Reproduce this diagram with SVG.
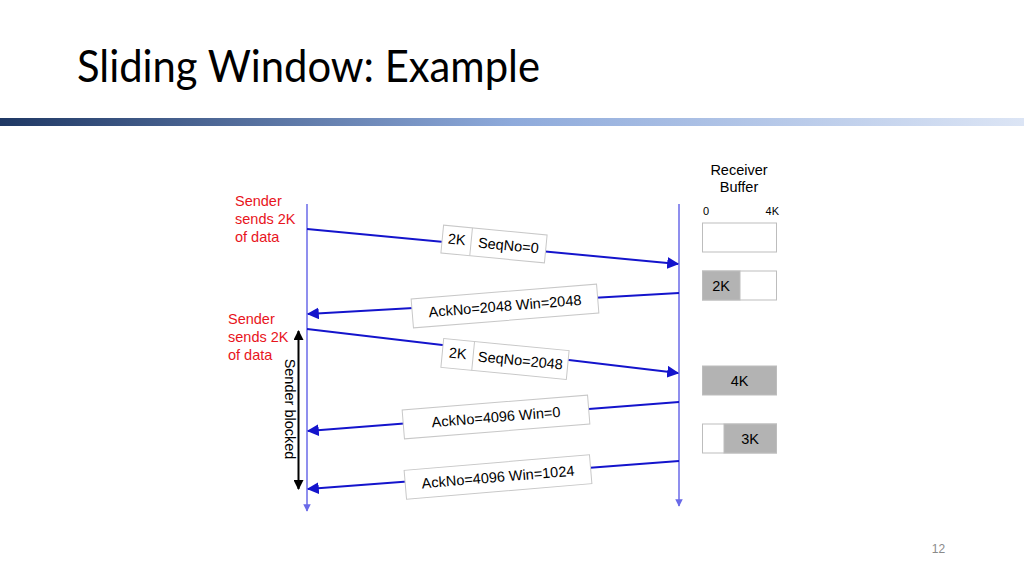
<svg xmlns="http://www.w3.org/2000/svg" width="1024" height="576" viewBox="0 0 1024 576">
<style>
text{font-family:"Liberation Sans",Arial,sans-serif}
.title{font-family:Lato,"Open Sans",sans-serif;font-size:44px;fill:#000}
.red{fill:#e8141c;font-size:14.5px}
.lbl{font-size:14.5px;fill:#000}
.box{fill:#fff;stroke:#c8c8c8;stroke-width:1}
.life{stroke:#6a6ae8;stroke-width:1.5;fill:none}
.msg{stroke:#1414cc;stroke-width:2;fill:none;marker-end:url(#ah)}
.buf{fill:#fff;stroke:#bdbdbd;stroke-width:1}
.full{fill:#b3b3b3;stroke:#bdbdbd;stroke-width:1}
.small{font-size:11px;fill:#000}
</style>
<defs>
<linearGradient id="bar" x1="0" y1="0" x2="1" y2="0">
<stop offset="0" stop-color="#1f3864"/>
<stop offset="0.5" stop-color="#8eaadb"/>
<stop offset="1" stop-color="#dce5f5"/>
</linearGradient>
<marker id="ah" viewBox="0 0 10 10" refX="9" refY="5" markerWidth="6" markerHeight="6" markerUnits="strokeWidth" orient="auto">
<path d="M0,0 L10,5 L0,10 z" fill="#1414cc"/>
</marker>
<marker id="lah" viewBox="0 0 10 10" refX="9" refY="5" markerWidth="5" markerHeight="5" markerUnits="strokeWidth" orient="auto">
<path d="M0,0 L10,5 L0,10 z" fill="#6a6ae8"/>
</marker>
<marker id="bk" viewBox="0 0 10 10" refX="9" refY="5" markerWidth="5" markerHeight="5" markerUnits="strokeWidth" orient="auto-start-reverse">
<path d="M0,0 L10,5 L0,10 z" fill="#000"/>
</marker>
</defs>
<rect width="1024" height="576" fill="#fff"/>
<text class="title" x="77" y="82" textLength="463" lengthAdjust="spacingAndGlyphs">Sliding Window: Example</text>
<rect x="0" y="118" width="1024" height="8" fill="url(#bar)"/>

<g id="sender-note-1">
<text class="red" x="235" y="206">Sender</text>
<text class="red" x="235" y="224">sends 2K</text>
<text class="red" x="235" y="242">of data</text>
</g>
<g id="sender-note-2">
<text class="red" x="228" y="324">Sender</text>
<text class="red" x="228" y="342">sends 2K</text>
<text class="red" x="228" y="360">of data</text>
</g>

<g id="lifelines">
<line class="life" x1="307" y1="204" x2="307" y2="511" marker-end="url(#lah)"/>
<line class="life" x1="679" y1="204" x2="679" y2="506" marker-end="url(#lah)"/>
</g>

<g id="connectors">
<line class="msg" x1="307" y1="229" x2="678" y2="264"/>
<line class="msg" x1="679" y1="293" x2="308" y2="314"/>
<line class="msg" x1="307" y1="329" x2="678" y2="373"/>
<line class="msg" x1="679" y1="402" x2="308" y2="431"/>
<line class="msg" x1="679" y1="461" x2="308" y2="489"/>
<line x1="298.5" y1="331" x2="298.5" y2="489" stroke="#000" stroke-width="2" marker-start="url(#bk)" marker-end="url(#bk)"/>
</g>

<g id="sender-blocked">
<text class="lbl" transform="translate(285,409) rotate(90)" text-anchor="middle" font-size="15">Sender blocked</text>
</g>

<g id="label-seq0" transform="translate(494,244) rotate(5.5)">
<rect class="box" x="-52" y="-14" width="104" height="28"/>
<line x1="-23" y1="-14" x2="-23" y2="14" stroke="#c8c8c8"/>
<text class="lbl" x="-37.5" y="4" text-anchor="middle">2K</text>
<text class="lbl" x="14.5" y="5" text-anchor="middle">SeqNo=0</text>
</g>

<g id="label-ack2048" transform="translate(505,306) rotate(-4.6)">
<rect class="box" x="-93" y="-14.5" width="186" height="29"/>
<text class="lbl" x="0" y="5" text-anchor="middle">AckNo=2048 Win=2048</text>
</g>

<g id="label-seq2048" transform="translate(505,359) rotate(5.5)">
<rect class="box" x="-63" y="-14.5" width="126" height="29"/>
<line x1="-32" y1="-14.5" x2="-32" y2="14.5" stroke="#c8c8c8"/>
<text class="lbl" x="-47.5" y="4" text-anchor="middle">2K</text>
<text class="lbl" x="15.5" y="5" text-anchor="middle">SeqNo=2048</text>
</g>

<g id="label-ack4096-0" transform="translate(496,417) rotate(-4.6)">
<rect class="box" x="-93" y="-14.5" width="186" height="29"/>
<text class="lbl" x="0" y="5" text-anchor="middle">AckNo=4096 Win=0</text>
</g>

<g id="label-ack4096-1024" transform="translate(498,477) rotate(-4.8)">
<rect class="box" x="-93" y="-14.5" width="186" height="29"/>
<text class="lbl" x="0" y="5" text-anchor="middle">AckNo=4096 Win=1024</text>
</g>

<g id="receiver-buffer-title">
<text class="lbl" x="739" y="175" text-anchor="middle">Receiver</text>
<text class="lbl" x="739" y="192" text-anchor="middle">Buffer</text>
<text class="small" x="703" y="215">0</text>
<text class="small" x="779" y="215" text-anchor="end">4K</text>
</g>

<g id="buffer-empty">
<rect class="buf" x="702.5" y="223" width="74" height="29"/>
</g>
<g id="buffer-2k">
<rect class="buf" x="702.5" y="271" width="74" height="29"/>
<rect class="full" x="702.5" y="271" width="37.5" height="29"/>
<text class="lbl" x="721" y="291" text-anchor="middle">2K</text>
</g>
<g id="buffer-4k">
<rect class="full" x="702.5" y="366" width="74" height="29"/>
<text class="lbl" x="739.5" y="386" text-anchor="middle">4K</text>
</g>
<g id="buffer-3k">
<rect class="buf" x="702.5" y="424" width="74" height="29"/>
<rect class="full" x="724" y="424" width="52.5" height="29"/>
<text class="lbl" x="750" y="444" text-anchor="middle">3K</text>
</g>

<text x="938.5" y="553" font-size="12" fill="#8a8a8a" text-anchor="middle">12</text>
</svg>
